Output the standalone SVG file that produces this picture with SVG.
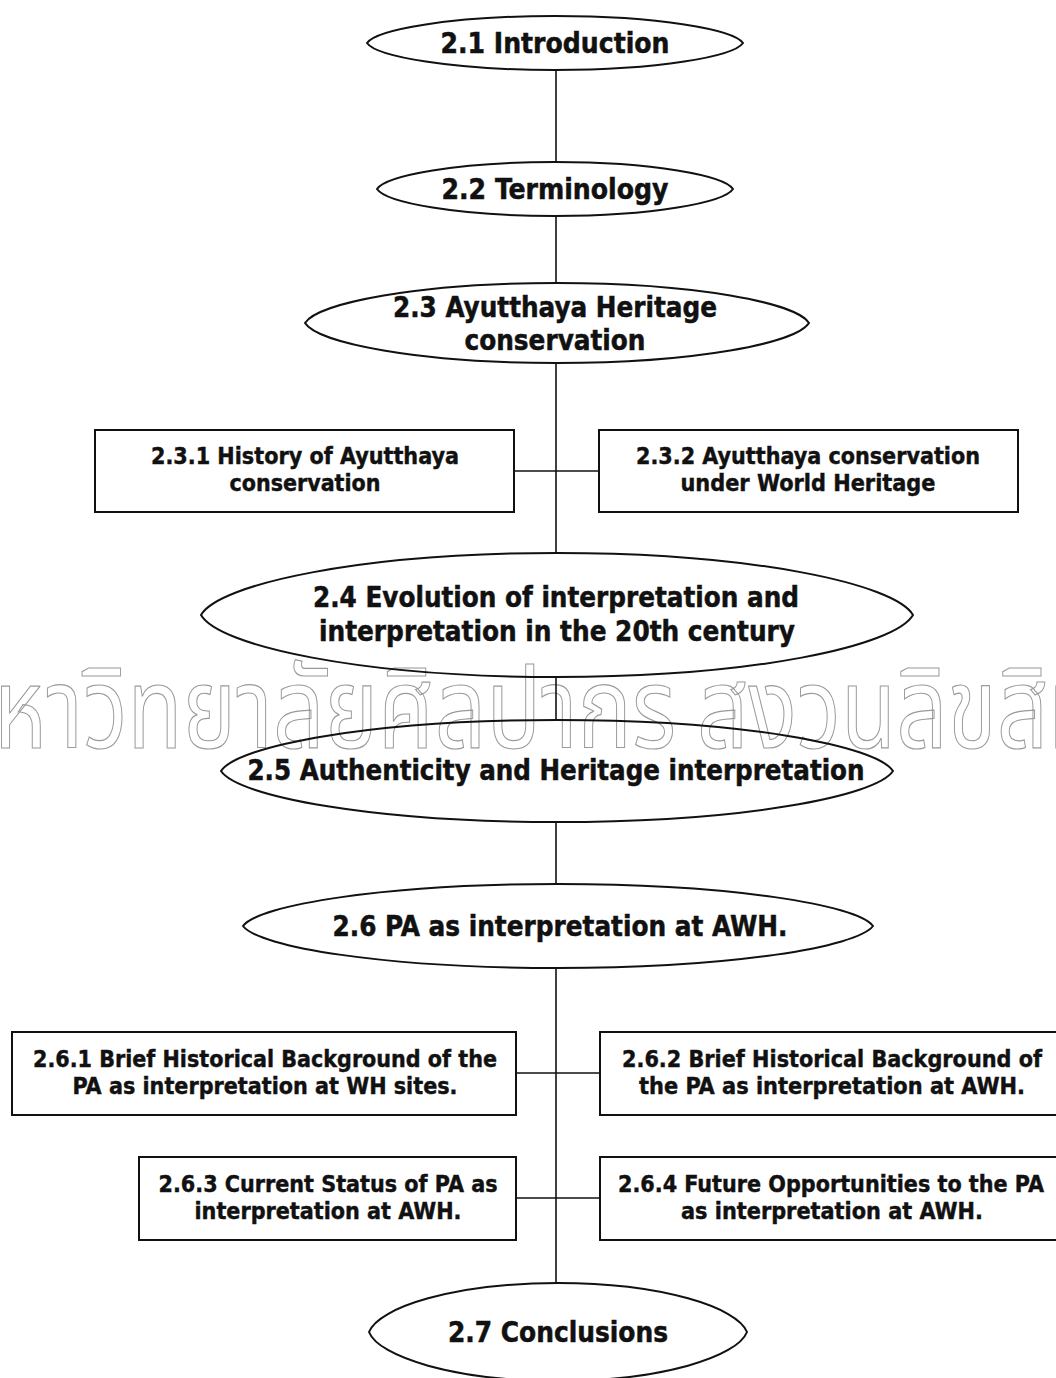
<svg xmlns="http://www.w3.org/2000/svg" width="1056" height="1378" viewBox="0 0 1056 1378">
  <style>
    .bg { fill: #ffffff; }
    .oval { fill: none; stroke: #111; stroke-width: 2; }
    .box { fill: none; stroke: #111; stroke-width: 2; }
    .link { fill: none; stroke: #111; stroke-width: 1.6; }
    .h { font-family: "DejaVu Sans Condensed", "DejaVu Sans", sans-serif; font-stretch: condensed; font-weight: bold; font-size: 29px; fill: #111; stroke: #111; stroke-width: 0.5; text-anchor: middle; }
    .s { font-family: "DejaVu Sans Condensed", "DejaVu Sans", sans-serif; font-stretch: condensed; font-weight: bold; font-size: 23px; fill: #111; stroke: #111; stroke-width: 0.4; text-anchor: middle; }
    .wm { font-family: "Noto Sans Thai", "Loma", "Garuda", "Tlwg Typo", sans-serif; font-size: 112px; fill: none; stroke: #9a9a9a; stroke-width: 1.2; }
  </style>

  <rect class="bg" x="0" y="0" width="1056" height="1378"/>

  <!-- university watermark across the middle of the page -->
  <g id="watermark">
    <text class="wm" x="-62" y="748" textLength="738" lengthAdjust="spacingAndGlyphs">มหาวิทยาลัยศิลปากร</text>
    <text class="wm" x="697" y="748" textLength="455" lengthAdjust="spacingAndGlyphs">สงวนลิขสิทธิ์</text>
  </g>

  <!-- connectors -->
  <g id="connectors">
    <line class="link" x1="556" y1="70" x2="556" y2="162"/>
    <line class="link" x1="556" y1="216" x2="556" y2="283"/>
    <line class="link" x1="556" y1="363" x2="556" y2="553"/>
    <line class="link" x1="514" y1="471" x2="599" y2="471"/>
    <line class="link" x1="556" y1="677" x2="556" y2="720"/>
    <line class="link" x1="556" y1="822" x2="556" y2="884"/>
    <line class="link" x1="556" y1="968" x2="556" y2="1283"/>
    <line class="link" x1="516" y1="1073" x2="600" y2="1073"/>
    <line class="link" x1="516" y1="1198" x2="600" y2="1198"/>
  </g>

  <g id="n21">
    <path class="oval" d="M 367 43 C 376.4 29.5 451.6 16 555 16 C 658.4 16 733.6 29.5 743 43 C 733.6 56.5 658.4 70 555 70 C 451.6 70 376.4 56.5 367 43 Z"/>
    <text class="h" x="555" y="53" textLength="229" lengthAdjust="spacingAndGlyphs">2.1 Introduction</text>
  </g>

  <g id="n22">
    <path class="oval" d="M 377 189 C 385.9 175.5 457.1 162 555 162 C 652.9 162 724.1 175.5 733 189 C 724.1 202.5 652.9 216 555 216 C 457.1 216 385.9 202.5 377 189 Z"/>
    <text class="h" x="555" y="199" textLength="227" lengthAdjust="spacingAndGlyphs">2.2 Terminology</text>
  </g>

  <g id="n23">
    <path class="oval" d="M 305 323 C 317.6 303 418.4 283 557 283 C 695.6 283 796.4 303 809 323 C 796.4 343 695.6 363 557 363 C 418.4 363 317.6 343 305 323 Z"/>
    <text class="h" x="555" y="317" textLength="324" lengthAdjust="spacingAndGlyphs">2.3 Ayutthaya Heritage</text>
    <text class="h" x="555" y="350" textLength="181" lengthAdjust="spacingAndGlyphs">conservation</text>
  </g>

  <g id="n231">
    <rect class="box" x="95" y="430" width="419" height="82"/>
    <text class="s" x="305" y="464" textLength="308" lengthAdjust="spacingAndGlyphs">2.3.1 History of Ayutthaya</text>
    <text class="s" x="305" y="491" textLength="151" lengthAdjust="spacingAndGlyphs">conservation</text>
  </g>

  <g id="n232">
    <rect class="box" x="599" y="430" width="419" height="82"/>
    <text class="s" x="808" y="464" textLength="344" lengthAdjust="spacingAndGlyphs">2.3.2 Ayutthaya conservation</text>
    <text class="s" x="808" y="491" textLength="255" lengthAdjust="spacingAndGlyphs">under World Heritage</text>
  </g>

  <g id="n24">
    <path class="oval" d="M 201 615 C 218.8 584 361.2 553 557 553 C 752.8 553 895.2 584 913 615 C 895.2 646 752.8 677 557 677 C 361.2 677 218.8 646 201 615 Z"/>
    <text class="h" x="556" y="607" textLength="486" lengthAdjust="spacingAndGlyphs">2.4 Evolution of interpretation and</text>
    <text class="h" x="557" y="641" textLength="476" lengthAdjust="spacingAndGlyphs">interpretation in the 20th century</text>
  </g>

  <g id="n25">
    <path class="oval" d="M 221 771 C 237.8 745.5 372.2 720 557 720 C 741.8 720 876.2 745.5 893 771 C 876.2 796.5 741.8 822 557 822 C 372.2 822 237.8 796.5 221 771 Z"/>
    <text class="h" x="556" y="780" textLength="617" lengthAdjust="spacingAndGlyphs">2.5 Authenticity and Heritage interpretation</text>
  </g>

  <g id="n26">
    <path class="oval" d="M 243 926 C 258.75 905 384.75 884 558 884 C 731.25 884 857.25 905 873 926 C 857.25 947 731.25 968 558 968 C 384.75 968 258.75 947 243 926 Z"/>
    <text class="h" x="560" y="936" textLength="455" lengthAdjust="spacingAndGlyphs">2.6 PA as interpretation at AWH.</text>
  </g>

  <g id="n261">
    <rect class="box" x="12" y="1032" width="504" height="83"/>
    <text class="s" x="265" y="1067" textLength="464" lengthAdjust="spacingAndGlyphs">2.6.1 Brief Historical Background of the</text>
    <text class="s" x="265" y="1094" textLength="385" lengthAdjust="spacingAndGlyphs">PA as interpretation at WH sites.</text>
  </g>

  <g id="n262">
    <rect class="box" x="600" y="1032" width="470" height="83"/>
    <text class="s" x="832" y="1067" textLength="420" lengthAdjust="spacingAndGlyphs">2.6.2 Brief Historical Background of</text>
    <text class="s" x="832" y="1094" textLength="386" lengthAdjust="spacingAndGlyphs">the PA as interpretation at AWH.</text>
  </g>

  <g id="n263">
    <rect class="box" x="139" y="1157" width="377" height="83"/>
    <text class="s" x="328" y="1192" textLength="339" lengthAdjust="spacingAndGlyphs">2.6.3 Current Status of PA as</text>
    <text class="s" x="328" y="1219" textLength="267" lengthAdjust="spacingAndGlyphs">interpretation at AWH.</text>
  </g>

  <g id="n264">
    <rect class="box" x="600" y="1157" width="470" height="83"/>
    <text class="s" x="831" y="1192" textLength="426" lengthAdjust="spacingAndGlyphs">2.6.4 Future Opportunities to the PA</text>
    <text class="s" x="832" y="1219" textLength="302" lengthAdjust="spacingAndGlyphs">as interpretation at AWH.</text>
  </g>

  <g id="n27">
    <path class="oval" d="M 369 1332 C 378.45 1307.5 454.05 1283 558 1283 C 661.95 1283 737.55 1307.5 747 1332 C 737.55 1356.5 661.95 1381 558 1381 C 454.05 1381 378.45 1356.5 369 1332 Z"/>
    <text class="h" x="558" y="1342" textLength="220" lengthAdjust="spacingAndGlyphs">2.7 Conclusions</text>
  </g>
</svg>
